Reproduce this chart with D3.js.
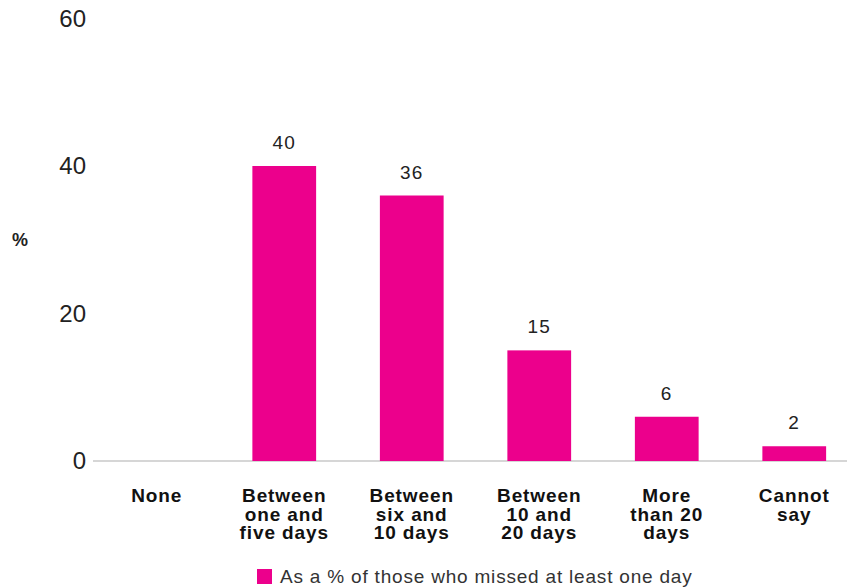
<!DOCTYPE html>
<html><head><meta charset="utf-8">
<script src="https://cdn.jsdelivr.net/npm/d3@7"></script>
<style>body{margin:0;background:#fff}svg{display:block}text{font-family:"Liberation Sans",Arial,sans-serif}</style>
</head><body><div id="c"></div>
<script>
const categories = [["None"],["Between","one and","five days"],["Between","six and","10 days"],["Between","10 and","20 days"],["More","than 20","days"],["Cannot","say"]];
const values = [null,40,36,15,6,2];
const yTicks = [0,20,40,60];
const seriesName = "As a % of those who missed at least one day";
const W=847,H=588, color="#EC008C";
const svg=d3.select("#c").append("svg").attr("width",W).attr("height",H);
const x=d3.scaleBand().domain(d3.range(categories.length)).range([93,858]).paddingInner(0.5).paddingOuter(0.25);
const y=d3.scaleLinear().domain([0,60]).range([461,18.5]);
// axis line
svg.append("line").attr("x1",93).attr("x2",W).attr("y1",y(0)).attr("y2",y(0)).attr("stroke","#c8c8c8").attr("stroke-width",1.5);
// y tick labels
svg.selectAll(".yt").data(yTicks).join("text").attr("x",86).attr("y",d=>y(d)).attr("dy","0.35em").attr("text-anchor","end").attr("font-size",24).attr("fill","#222").text(d=>d);
svg.append("text").attr("x",20).attr("y",240).attr("dy","0.35em").attr("text-anchor","middle").attr("font-size",18).attr("font-weight","bold").attr("fill","#222").text("%");
// bars
const data=values.map((v,i)=>({i,v})).filter(d=>d.v!=null);
svg.selectAll(".bar").data(data).join("rect").attr("x",d=>x(d.i)).attr("width",x.bandwidth()).attr("y",d=>y(d.v)).attr("height",d=>y(0)-y(d.v)).attr("fill",color);
svg.selectAll(".vl").data(data).join("text").attr("x",d=>x(d.i)+x.bandwidth()/2).attr("y",d=>y(d.v)-17).attr("text-anchor","middle").attr("font-size",19).attr("letter-spacing",1.2).attr("fill","#222").text(d=>d.v);
// category labels
categories.forEach((lines,i)=>{
  const cx=x(i)+x.bandwidth()/2;
  const t=svg.append("text").attr("x",cx).attr("y",502).attr("text-anchor","middle").attr("font-size",19).attr("font-weight","bold").attr("letter-spacing",0.9).attr("fill","#111");
  lines.forEach((l,j)=>t.append("tspan").attr("x",cx).attr("y",502+j*18.5).text(l));
});
// legend
svg.append("rect").attr("x",257).attr("y",569).attr("width",15).attr("height",15).attr("fill",color);
svg.append("text").attr("x",280).attr("y",583).attr("font-size",19).attr("letter-spacing",0.8).attr("fill","#333").text(seriesName);
</script></body></html>
